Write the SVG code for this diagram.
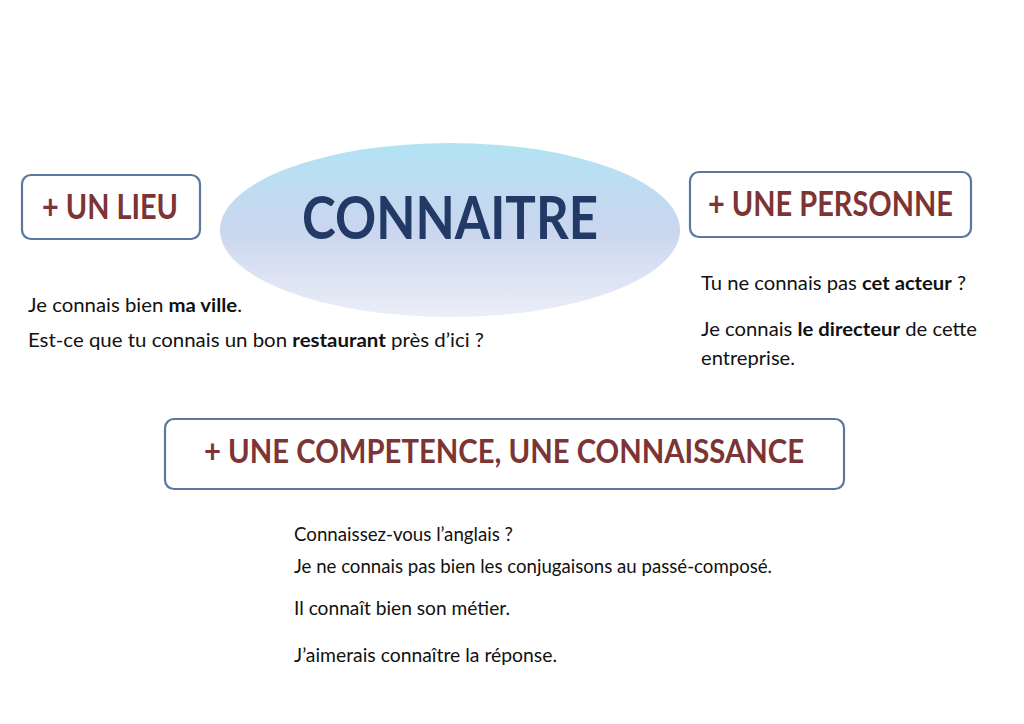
<svg xmlns="http://www.w3.org/2000/svg" width="1024" height="724" viewBox="0 0 1024 724">
<defs>
<linearGradient id="eg" x1="0" y1="0" x2="0" y2="1">
<stop offset="0" stop-color="#b2e3f4"/>
<stop offset="0.5" stop-color="#cad6ef"/>
<stop offset="1" stop-color="#eceef8"/>
</linearGradient>
</defs>
<style>
.box{fill:#fff;stroke:#5b77a0;stroke-width:2.2}
.hd{font-family:Lato,"Open Sans","Liberation Sans",sans-serif;font-weight:700;fill:#7c3434}
.tx{font-family:Lato,"Open Sans","Liberation Sans",sans-serif;font-size:19.5px;fill:#111}
.b{font-weight:700}
</style>
<rect width="1024" height="724" fill="#fff"/>
<g id="center">
<ellipse cx="450" cy="230" rx="230" ry="87" fill="url(#eg)"/>
<text x="450" y="239" text-anchor="middle" font-family="Lato,'Open Sans','Liberation Sans',sans-serif" font-weight="700" font-size="60" fill="#243a66" textLength="296" lengthAdjust="spacingAndGlyphs">CONNAITRE</text>
</g>
<g id="lieu">
<rect class="box" x="22" y="175" width="178" height="64" rx="9"/>
<text class="hd" x="42" y="219" font-size="34" textLength="136" lengthAdjust="spacingAndGlyphs">+ UN LIEU</text>
</g>
<g id="personne">
<rect class="box" x="690" y="172" width="281" height="65" rx="9"/>
<text class="hd" x="708" y="216" font-size="34" textLength="245" lengthAdjust="spacingAndGlyphs">+ UNE PERSONNE</text>
</g>
<g id="competence">
<rect class="box" x="165" y="419" width="679" height="70" rx="9"/>
<text class="hd" x="204" y="463" font-size="32" textLength="600" lengthAdjust="spacingAndGlyphs">+ UNE COMPETENCE, UNE CONNAISSANCE</text>
</g>
<g id="ex-lieu">
<text class="tx" x="28" y="312" textLength="214" lengthAdjust="spacingAndGlyphs">Je connais bien <tspan class="b">ma ville</tspan>.</text>
<text class="tx" x="28" y="347" textLength="456" lengthAdjust="spacingAndGlyphs">Est-ce que tu connais un bon <tspan class="b">restaurant</tspan> près d’ici ?</text>
</g>
<g id="ex-personne">
<text class="tx" x="701" y="290" textLength="265" lengthAdjust="spacingAndGlyphs">Tu ne connais pas <tspan class="b">cet acteur</tspan> ?</text>
<text class="tx" x="701" y="336" textLength="276" lengthAdjust="spacingAndGlyphs">Je connais <tspan class="b">le directeur</tspan> de cette</text>
<text class="tx" x="701" y="365" textLength="94" lengthAdjust="spacingAndGlyphs">entreprise.</text>
</g>
<g id="ex-competence">
<text class="tx" x="294" y="541" textLength="219" lengthAdjust="spacingAndGlyphs">Connaissez-vous l’anglais ?</text>
<text class="tx" x="294" y="573" textLength="478" lengthAdjust="spacingAndGlyphs">Je ne connais pas bien les conjugaisons au passé-composé.</text>
<text class="tx" x="294" y="615" textLength="216" lengthAdjust="spacingAndGlyphs">Il connaît bien son métier.</text>
<text class="tx" x="294" y="662" textLength="263" lengthAdjust="spacingAndGlyphs">J’aimerais connaître la réponse.</text>
</g>
<g id="connectors"/>
</svg>
